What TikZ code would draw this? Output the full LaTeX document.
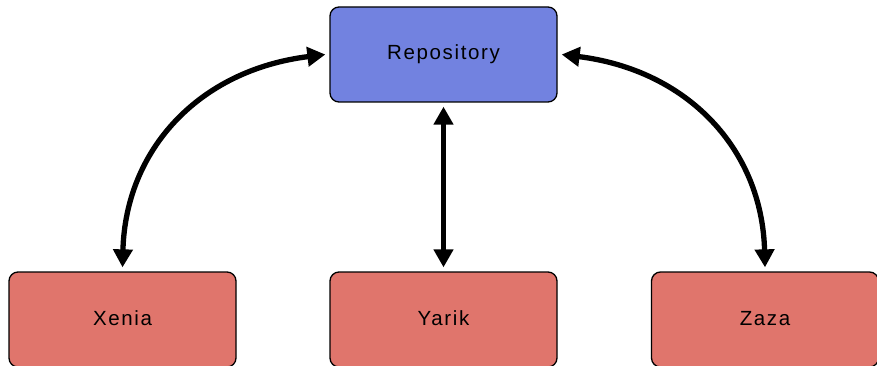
\documentclass[tikz,border=0pt]{standalone}
\usepackage{fontspec}
\setmainfont{Liberation Sans}[LetterSpace=8]
\usetikzlibrary{arrows.meta}
\definecolor{repoblue}{HTML}{7282E0}
\definecolor{userred}{HTML}{E0756C}
\tikzset{
  box/.style={draw=black, line width=1.3pt, rounded corners=9pt,
    minimum width=227pt, minimum height=95pt, inner sep=0pt,
    font=\fontsize{20.5}{24}\selectfont},
  repo/.style={box, fill=repoblue},
  user/.style={box, fill=userred},
  link/.style={line width=5.3pt,
    {Triangle[length=18pt,width=19pt]}-{Triangle[length=18pt,width=19pt]}},
}
\begin{document}
\begin{tikzpicture}[x=1pt,y=-1pt]
\useasboundingbox (0,0) rectangle (877,366);
% central repository and the three users
\node[repo] (repo)  at (443.5,54.5) {Repository};
\node[user] (xenia) at (122.5,319.5) {\raisebox{2pt}{Xenia}};
\node[user] (yarik) at (443.5,319.5) {\raisebox{2pt}{Yarik}};
\node[user] (zaza)  at (765,319.5) {\raisebox{2pt}{Zaza}};
% two-way links
\draw[link] ([yshift=4pt]xenia.north) .. controls +(3,-118) and +(-126,15.5) .. ([xshift=-4pt]repo.west);
\draw[link] ([yshift=-4pt]repo.south) -- ([yshift=4pt]yarik.north);
\draw[link] ([xshift=4pt]repo.east) .. controls +(126,15.5) and +(-3,-118) .. ([yshift=4pt]zaza.north);
\end{tikzpicture}
\end{document}
